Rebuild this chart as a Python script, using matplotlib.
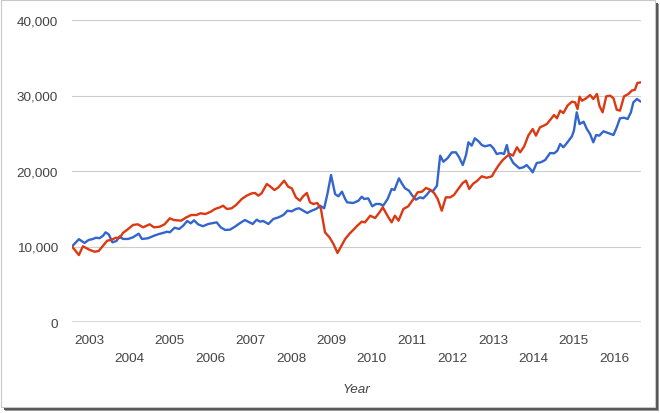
import matplotlib
matplotlib.use("Agg")
import matplotlib.pyplot as plt
from matplotlib.patches import Rectangle

# ---- data (decimal years) ----
blue_years = [2002.58, 2002.75, 2002.89, 2002.99, 2003.10, 2003.17, 2003.26, 2003.35, 2003.41, 2003.49,
              2003.58, 2003.68, 2003.76, 2003.84, 2003.97, 2004.09, 2004.23, 2004.31, 2004.46, 2004.61,
              2004.73, 2004.83, 2004.93, 2005.00, 2005.12, 2005.23, 2005.33, 2005.43, 2005.52, 2005.60,
              2005.70, 2005.82, 2005.95, 2006.07, 2006.16, 2006.26, 2006.37, 2006.49, 2006.61, 2006.74,
              2006.86, 2007.05, 2007.15, 2007.23, 2007.31, 2007.44, 2007.56, 2007.69, 2007.81, 2007.91,
              2008.02, 2008.12, 2008.20, 2008.40, 2008.51, 2008.62, 2008.72, 2008.82, 2008.90, 2008.99,
              2009.09, 2009.17, 2009.26, 2009.34, 2009.39, 2009.54, 2009.67, 2009.75, 2009.81, 2009.91,
              2010.01, 2010.10, 2010.20, 2010.28, 2010.39, 2010.49, 2010.56, 2010.67, 2010.74, 2010.82,
              2010.92, 2010.99, 2011.09, 2011.19, 2011.27, 2011.36, 2011.44, 2011.52, 2011.61, 2011.69,
              2011.77, 2011.87, 2011.98, 2012.08, 2012.16, 2012.25, 2012.33, 2012.39, 2012.47, 2012.55,
              2012.64, 2012.72, 2012.80, 2012.93, 2013.01, 2013.09, 2013.19, 2013.27, 2013.34, 2013.40,
              2013.50, 2013.65, 2013.75, 2013.83, 2013.92, 2013.98, 2014.08, 2014.18, 2014.29, 2014.41,
              2014.51, 2014.59, 2014.66, 2014.74, 2014.84, 2014.95, 2015.00, 2015.07, 2015.14, 2015.24,
              2015.32, 2015.40, 2015.48, 2015.55, 2015.63, 2015.73, 2015.85, 2015.98, 2016.06, 2016.14,
              2016.24, 2016.33, 2016.41, 2016.47, 2016.56, 2016.64]
blue_values = [10000, 10970, 10470, 10860, 11000, 11160, 11100, 11430, 11880, 11600,
               10550, 10730, 11350, 11000, 11000, 11220, 11700, 11000, 11090, 11430,
               11650, 11790, 11960, 11880, 12490, 12320, 12750, 13380, 13070, 13470,
               12940, 12680, 12980, 13110, 13200, 12540, 12190, 12230, 12620, 13110,
               13510, 12980, 13550, 13290, 13380, 12980, 13640, 13860, 14170, 14740,
               14660, 14970, 15060, 14440, 14740, 14970, 15400, 15060, 16950, 19470,
               16950, 16650, 17260, 16290, 15850, 15760, 16070, 16600, 16290, 16380,
               15320, 15630, 15630, 15410, 16290, 17620, 17480, 19030, 18370, 17710,
               17390, 16820, 16200, 16510, 16380, 16860, 17390, 17390, 18050, 22030,
               21230, 21680, 22470, 22470, 21810, 20790, 22120, 23800, 23360, 24330,
               23930, 23440, 23270, 23440, 23000, 22250, 22380, 22250, 23440, 22030,
               21060, 20360, 20490, 20790, 20260, 19820, 21060, 21150, 21460, 22380,
               22340, 22690, 23580, 23140, 23800, 24590, 25340, 27770, 26220, 26530,
               25560, 24900, 23800, 24770, 24680, 25260, 25030, 24770, 25790, 26980,
               27060, 26890, 27770, 29090, 29540, 29230]

red_years = [2002.58, 2002.75, 2002.85, 2003.02, 2003.14, 2003.24, 2003.35, 2003.45, 2003.55, 2003.66,
             2003.76, 2003.84, 2003.97, 2004.09, 2004.21, 2004.34, 2004.50, 2004.61, 2004.75, 2004.87,
             2005.00, 2005.10, 2005.28, 2005.41, 2005.53, 2005.66, 2005.76, 2005.88, 2006.01, 2006.12,
             2006.24, 2006.32, 2006.41, 2006.53, 2006.64, 2006.78, 2006.90, 2007.03, 2007.11, 2007.19,
             2007.27, 2007.40, 2007.48, 2007.59, 2007.69, 2007.83, 2007.93, 2008.02, 2008.12, 2008.22,
             2008.30, 2008.39, 2008.47, 2008.55, 2008.65, 2008.74, 2008.84, 2008.95, 2009.05, 2009.15,
             2009.26, 2009.34, 2009.44, 2009.64, 2009.75, 2009.83, 2009.96, 2010.08, 2010.19, 2010.27,
             2010.41, 2010.49, 2010.57, 2010.66, 2010.78, 2010.90, 2011.03, 2011.13, 2011.24, 2011.34,
             2011.44, 2011.54, 2011.63, 2011.73, 2011.83, 2011.94, 2012.03, 2012.14, 2012.24, 2012.33,
             2012.41, 2012.50, 2012.61, 2012.72, 2012.84, 2012.97, 2013.05, 2013.13, 2013.24, 2013.34,
             2013.42, 2013.49, 2013.59, 2013.67, 2013.77, 2013.87, 2013.98, 2014.06, 2014.16, 2014.25,
             2014.33, 2014.43, 2014.51, 2014.58, 2014.66, 2014.74, 2014.84, 2014.95, 2015.03, 2015.09,
             2015.14, 2015.20, 2015.30, 2015.40, 2015.48, 2015.57, 2015.63, 2015.71, 2015.80, 2015.90,
             2015.98, 2016.06, 2016.14, 2016.24, 2016.35, 2016.43, 2016.51, 2016.57, 2016.66]
red_values = [10000, 8870, 10030, 9540, 9310, 9400, 10110, 10770, 10860, 11160,
              11130, 11790, 12320, 12850, 12940, 12540, 12940, 12540, 12620, 12940,
              13730, 13510, 13420, 13860, 14170, 14170, 14400, 14300, 14600, 14970,
              15190, 15400, 14970, 15060, 15500, 16290, 16730, 17040, 17090, 16730,
              17040, 18280, 17970, 17480, 17840, 18720, 17920, 17700, 16510, 16070,
              16650, 17090, 15850, 15630, 15760, 14970, 11880, 11220, 10330, 9140,
              10200, 11000, 11650, 12750, 13290, 13200, 14080, 13770, 14530, 15190,
              13860, 13200, 14080, 13420, 14970, 15320, 16290, 17170, 17260, 17750,
              17530, 17090, 16290, 14740, 16510, 16510, 16820, 17620, 18370, 18720,
              17620, 18280, 18720, 19300, 19100, 19300, 20040, 20700, 21460, 21940,
              22250, 22030, 23140, 22470, 23270, 24680, 25560, 24680, 25790, 26000,
              26220, 26890, 27420, 26980, 27990, 27680, 28650, 29180, 29090, 28210,
              29840, 29310, 29620, 30060, 29540, 30200, 28650, 27770, 29890, 29980,
              29620, 28120, 27990, 29890, 30200, 30640, 30770, 31660, 31750]

tick_years = list(range(2003, 2017))
y_ticks = [0, 10000, 20000, 30000, 40000]
y_tick_labels = ["0", "10,000", "20,000", "30,000", "40,000"]
x_title = "Year"

BLUE = "#3366cc"
RED = "#dc3912"
TEXT = "#444444"

plt.rcParams['font.family'] = ['Liberation Sans', 'DejaVu Sans']

W, H = 660, 414
fig = plt.figure(figsize=(W / 100, H / 100), dpi=100)
fig.patch.set_facecolor("white")

def px_rect(x0, y0, x1, y1, **kw):
    return Rectangle((x0 / W, 1 - y1 / H), (x1 - x0) / W, (y1 - y0) / H,
                     transform=fig.transFigure, **kw)

# frame with drop shadow
fig.patches.append(px_rect(5, 5, 659, 412, facecolor="#9a9a9a", edgecolor="none", zorder=0))
fig.patches.append(px_rect(4, 4, 658, 411, facecolor="#555555", edgecolor="none", zorder=0))
fig.patches.append(px_rect(1, 1, 655, 408, facecolor="white", edgecolor="#c8c8c8", linewidth=0.8, zorder=1))

left, right, top, bottom = 72, 641, 21, 323
ax = fig.add_axes([left / W, 1 - bottom / H, (right - left) / W, (bottom - top) / H])
ax.set_facecolor("none")
ax.set_zorder(2)

ax.plot(blue_years, blue_values, color=BLUE, linewidth=1.7, solid_joinstyle="round", zorder=3)
ax.plot(red_years, red_values, color=RED, linewidth=1.7, solid_joinstyle="round", zorder=4)

ax.set_xlim(2002.58, 2016.66)
ax.set_ylim(0, 40000)

for v in y_ticks[1:]:
    ax.axhline(v, color="#cccccc", linewidth=0.8, zorder=1)
ax.axhline(0, color="#333333", linewidth=1.0, zorder=5)

ax.set_yticks(y_ticks)
ax.set_yticklabels(y_tick_labels)
odd = [y for y in tick_years if y % 2 == 1]
even = [y for y in tick_years if y % 2 == 0]
ax.set_xticks(odd)
ax.set_xticklabels([str(y) for y in odd])
ax.set_xticks(even, minor=True)
ax.set_xticklabels([str(y) for y in even], minor=True)

ax.tick_params(axis="y", length=0, pad=10.0, labelsize=9.7, labelcolor=TEXT)
ax.tick_params(axis="x", which="major", length=0, pad=8.5, labelsize=9.7, labelcolor=TEXT)
ax.tick_params(axis="x", which="minor", length=0, pad=21.5, labelsize=9.7, labelcolor=TEXT)

for s in ax.spines.values():
    s.set_visible(False)

fig.text((left + right) / 2 / W, 1 - 390 / H, x_title, ha="center", va="center",
         fontsize=9.7, style="italic", color=TEXT)

fig.savefig("out.png", dpi=100, facecolor="white")
